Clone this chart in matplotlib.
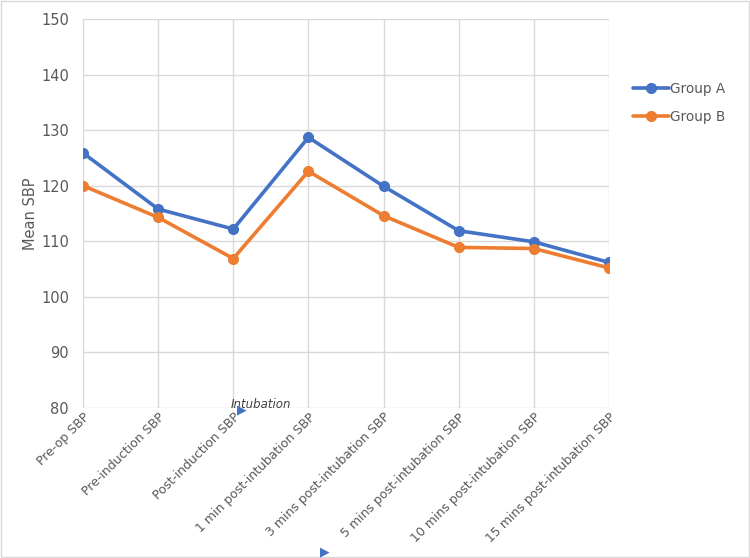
import matplotlib.pyplot as plt
from matplotlib.patches import Rectangle

categories = ['Pre-op SBP', 'Pre-induction SBP', 'Post-induction SBP',
              '1 min post-intubation SBP', '3 mins post-intubation SBP',
              '5 mins post-intubation SBP', '10 mins post-intubation SBP',
              '15 mins post-intubation SBP']
group_a = [125.9, 115.8, 112.2, 128.7, 119.9, 111.9, 109.9, 106.2]
group_b = [120.0, 114.3, 106.9, 122.6, 114.6, 108.9, 108.7, 105.2]
y_ticks = [80, 90, 100, 110, 120, 130, 140, 150]

grey = '#595959'
grid = '#d9d9d9'

fig = plt.figure(figsize=(7.5, 5.58), dpi=100)
ax = fig.add_axes([83 / 750, 1 - 408 / 558, (609 - 83) / 750, (408 - 19) / 558])

x = list(range(len(categories)))
ax.plot(x, group_a, color='#4472C4', lw=2.6, marker='o', ms=7, label='Group A',
        solid_capstyle='round', zorder=3)
ax.plot(x, group_b, color='#ED7D31', lw=2.6, marker='o', ms=7, label='Group B',
        solid_capstyle='round', zorder=3)

ax.set_xlim(0, len(categories) - 1)
ax.set_ylim(80, 150)
ax.set_yticks(y_ticks)
ax.set_xticks(x)
ax.set_xticklabels(categories, rotation=45, ha='right', rotation_mode='anchor', fontsize=9)
ax.tick_params(axis='both', length=0, colors=grey)
ax.tick_params(axis='y', labelsize=10.5, pad=10)
ax.tick_params(axis='x', pad=2)
ax.grid(True, color=grid, lw=1)
ax.set_axisbelow(True)
for s in ax.spines.values():
    s.set_visible(False)
ax.set_ylabel('Mean SBP', color=grey, fontsize=10.5, labelpad=2)

leg = fig.legend(loc='upper left', bbox_to_anchor=(621 / 750, 1 - 70 / 558),
                 frameon=False, fontsize=9.8, labelcolor=grey, handlelength=2.6,
                 handletextpad=0.1, labelspacing=1.0)

# stray annotation from the original
fig.text(231 / 750, 1 - 404 / 558, 'Intubation', fontsize=8.5, style='italic',
         color='#404040', va='center', family='DejaVu Sans')
fig.text(237 / 750, 1 - 410 / 558, '\u25B6', fontsize=9, color='#4472C4', va='center')
fig.text(320 / 750, 1 - 552 / 558, '\u25B6', fontsize=9, color='#4472C4', va='center')

fig.patches.append(Rectangle((1 / 750, 1 / 558), 748 / 750, 556 / 558, transform=fig.transFigure,
                             fill=False, edgecolor=grid, lw=1))

plt.savefig('out.png', dpi=100)
